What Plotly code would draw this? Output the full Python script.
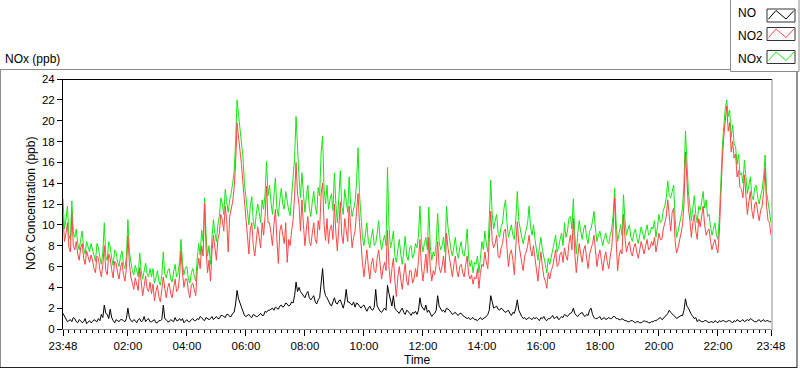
import pandas as pd
import plotly.graph_objects as go

# ---------------- data (3-minute samples, 23:48 -> 23:48 next day; one row = one hour) ----------------
nox = [
    12.5, 9.6, 10.5, 11.8, 9.0, 8.6, 12.3, 9.2, 8.8, 9.6, 8.2, 7.6, 8.6, 9.4, 7.8, 7.2, 8.4, 7.9, 7.4, 8.2,
    7.6, 6.8, 6.5, 8.2, 7.8, 6.9, 6.2, 7.4, 10.2, 7.0, 6.6, 8.4, 7.9, 6.8, 6.1, 7.6, 7.4, 6.4, 6.0, 7.0,
    7.5, 6.2, 5.8, 7.0, 10.5, 7.4, 6.4, 5.6, 5.2, 6.1, 5.6, 5.0, 7.3, 5.6, 4.8, 5.4, 6.3, 5.3, 5.0, 5.8,
    5.0, 5.8, 4.4, 4.9, 5.6, 4.6, 4.2, 5.2, 7.4, 5.3, 4.9, 5.6, 5.8, 4.8, 4.5, 5.5, 6.2, 5.0, 5.4, 6.4,
    8.6, 6.4, 5.2, 5.9, 6.0, 4.8, 4.4, 5.4, 5.8, 5.1, 4.6, 6.8, 8.2, 7.1, 9.5, 8.4, 12.6, 9.0, 7.0, 8.0,
    6.2, 8.8, 10.5, 9.2, 8.4, 10.0, 10.8, 12.6, 12.0, 11.0, 13.4, 12.2, 11.2, 12.4, 13.0, 14.0, 15.0, 18.0, 22.0, 20.6,
    19.0, 17.8, 16.5, 14.0, 12.5, 11.2, 10.0, 11.8, 12.7, 10.4, 9.6, 11.0, 12.0, 11.2, 10.2, 12.4, 11.5, 13.0, 16.1, 12.8,
    13.8, 12.2, 11.0, 12.8, 14.5, 11.6, 10.8, 12.4, 13.5, 12.0, 11.5, 13.2, 12.0, 11.4, 10.9, 12.6, 14.2, 16.4, 20.4, 17.0,
    14.6, 12.6, 15.0, 13.0, 11.2, 12.8, 13.8, 11.6, 10.8, 12.2, 13.2, 11.8, 11.0, 13.6, 12.8, 17.0, 18.5, 13.4, 12.0, 13.8,
    11.5, 12.4, 13.0, 11.4, 15.0, 12.0, 10.2, 12.6, 15.2, 11.8, 11.0, 13.4, 12.5, 11.2, 14.6, 12.0, 10.8, 11.6, 12.2, 14.0,
    17.4, 13.0, 10.6, 8.8, 8.0, 9.4, 10.2, 8.4, 7.8, 8.8, 9.6, 8.0, 8.2, 9.2, 10.4, 8.6, 7.6, 8.4, 9.0, 8.0,
    15.5, 9.8, 7.8, 8.4, 9.4, 7.0, 6.4, 7.6, 8.6, 7.2, 6.2, 7.4, 8.9, 7.0, 6.6, 7.8, 8.0, 6.8, 7.2, 8.2,
    7.8, 9.0, 11.8, 8.4, 7.4, 8.2, 8.8, 7.6, 11.7, 8.0, 6.6, 7.4, 7.0, 8.2, 11.1, 8.4, 7.6, 8.0, 8.8, 7.4,
    11.8, 9.8, 8.6, 7.6, 7.0, 8.0, 8.8, 7.4, 6.8, 7.8, 8.4, 7.2, 7.0, 8.0, 9.6, 6.8, 6.0, 6.6, 5.4, 6.4,
    6.2, 7.0, 5.4, 6.8, 8.4, 7.6, 9.4, 8.2, 7.4, 10.6, 14.3, 11.0, 9.6, 10.4, 11.0, 9.2, 8.8, 9.8, 10.2, 11.6,
    12.4, 10.2, 8.8, 9.4, 10.0, 9.0, 8.6, 10.6, 13.2, 10.4, 9.4, 8.8, 8.2, 9.0, 9.6, 10.2, 11.8, 9.8, 9.0, 10.0,
    8.6, 7.4, 6.6, 7.8, 8.8, 7.6, 7.0, 6.2, 5.4, 6.8, 6.2, 7.0, 7.6, 8.4, 9.0, 7.4, 7.8, 8.6, 9.2, 8.0,
    10.2, 8.8, 9.4, 10.6, 10.8, 9.6, 12.5, 9.0, 7.2, 9.2, 10.4, 9.4, 8.6, 9.6, 10.0, 8.8, 8.2, 9.4, 9.6, 10.4,
    11.3, 9.6, 8.4, 9.0, 9.4, 8.6, 8.0, 8.8, 9.2, 8.4, 8.2, 9.0, 9.6, 11.0, 13.5, 10.2, 8.4, 9.2, 10.0, 9.0,
    12.9, 10.4, 9.0, 9.6, 10.0, 8.8, 8.4, 9.2, 9.6, 8.8, 8.2, 9.0, 9.8, 9.2, 8.6, 9.4, 10.0, 9.0, 9.2, 9.8,
    9.6, 10.4, 8.8, 9.8, 11.0, 10.2, 10.4, 11.4, 11.8, 12.6, 14.2, 12.8, 12.6, 13.2, 13.8, 10.6, 8.8, 9.4, 10.0, 10.8,
    11.6, 14.0, 19.0, 15.6, 13.2, 11.8, 10.4, 11.6, 12.8, 11.0, 10.2, 11.8, 11.4, 12.2, 13.2, 11.6, 12.4, 10.8, 11.0, 9.8,
    9.0, 9.6, 10.2, 9.0, 8.6, 10.8, 14.5, 17.4, 19.5, 21.2, 22.0, 20.4, 21.0, 18.4, 19.6, 17.8, 17.5, 15.8, 16.8, 14.8,
    15.0, 14.0, 16.2, 14.2, 13.0, 13.8, 14.6, 12.8, 12.4, 13.6, 13.8, 12.6, 12.0, 12.8, 13.4, 14.6, 16.7, 13.2, 12.0, 11.4,
    10.2,
]

no2 = [
    10.8, 8.4, 9.2, 10.2, 7.8, 7.4, 11.0, 8.0, 7.6, 8.4, 7.2, 6.6, 7.8, 8.2, 6.8, 6.2, 7.5, 6.9, 6.4, 7.1,
    6.6, 5.8, 5.4, 7.0, 6.8, 5.7, 5.0, 6.2, 8.0, 5.6, 5.2, 7.2, 6.8, 5.7, 4.9, 6.5, 6.3, 5.4, 4.8, 5.9,
    6.4, 5.2, 4.6, 5.9, 8.9, 6.3, 5.0, 4.4, 3.8, 4.9, 4.3, 3.7, 5.9, 4.2, 3.2, 4.1, 5.1, 3.9, 3.6, 4.5,
    3.4, 4.3, 2.7, 3.6, 4.2, 3.1, 2.6, 3.8, 5.0, 3.9, 3.0, 4.0, 4.4, 3.4, 3.0, 4.0, 4.8, 3.6, 3.8, 5.0,
    7.5, 5.4, 4.0, 4.8, 4.8, 3.6, 3.0, 4.2, 4.4, 3.8, 3.2, 5.6, 6.8, 5.8, 8.0, 7.0, 12.1, 7.6, 5.4, 6.6,
    4.6, 7.4, 9.0, 7.8, 6.6, 8.6, 9.2, 11.0, 10.5, 9.4, 11.8, 10.4, 7.4, 10.8, 11.6, 12.2, 13.5, 15.8, 19.8, 18.6,
    17.5, 15.8, 14.0, 12.0, 10.5, 9.0, 7.2, 9.6, 10.2, 8.0, 7.0, 8.8, 9.8, 8.8, 7.8, 10.2, 9.0, 10.8, 13.7, 10.2,
    10.2, 9.2, 8.0, 10.0, 11.5, 8.6, 6.3, 9.4, 10.0, 9.0, 8.2, 10.2, 6.4, 8.6, 8.0, 9.4, 10.5, 12.8, 16.0, 13.0,
    12.0, 9.4, 12.4, 10.0, 8.0, 9.6, 10.8, 8.4, 8.0, 9.2, 10.2, 8.6, 8.2, 10.4, 9.5, 13.0, 14.0, 10.0, 8.5, 10.6,
    8.2, 9.6, 10.0, 8.6, 12.0, 9.2, 7.5, 9.8, 12.2, 9.0, 8.2, 10.6, 9.6, 8.4, 11.8, 9.2, 7.8, 8.8, 9.4, 11.2,
    13.0, 10.2, 8.0, 6.4, 5.0, 6.6, 7.6, 6.0, 4.8, 6.2, 6.8, 5.6, 5.4, 6.8, 7.6, 6.2, 4.8, 5.8, 6.4, 5.6,
    9.5, 6.0, 4.4, 5.8, 6.8, 4.6, 3.1, 5.0, 6.0, 4.8, 3.8, 5.2, 6.3, 4.6, 4.2, 5.6, 5.6, 4.4, 4.8, 5.8,
    5.0, 6.6, 8.6, 6.0, 4.6, 5.8, 7.2, 5.4, 8.8, 5.8, 4.6, 5.6, 5.2, 6.2, 8.4, 6.0, 5.4, 6.0, 7.0, 5.4,
    9.2, 7.8, 6.8, 5.6, 5.0, 6.2, 7.0, 5.6, 5.0, 6.0, 6.2, 5.4, 5.0, 6.2, 7.0, 5.2, 4.8, 5.2, 4.3, 5.0,
    4.8, 5.8, 3.9, 5.4, 6.2, 6.0, 7.4, 6.4, 5.8, 8.6, 11.3, 8.4, 7.8, 8.2, 9.0, 7.0, 6.8, 7.8, 8.2, 9.4,
    9.6, 7.8, 6.0, 7.2, 7.6, 6.6, 5.2, 8.0, 10.3, 8.2, 7.0, 6.4, 5.6, 7.0, 7.4, 8.0, 9.0, 7.6, 7.0, 8.0,
    6.8, 5.8, 4.6, 6.2, 7.4, 6.0, 5.0, 4.6, 3.9, 5.4, 4.8, 5.6, 6.0, 6.8, 7.6, 6.0, 6.2, 7.2, 7.4, 6.4,
    7.8, 7.0, 6.6, 8.2, 9.0, 7.6, 10.6, 7.2, 5.4, 7.0, 8.2, 7.2, 6.4, 7.6, 8.0, 6.8, 5.8, 7.2, 7.6, 8.2,
    9.0, 7.6, 6.0, 7.0, 7.6, 6.6, 5.6, 6.8, 7.4, 6.4, 5.8, 7.0, 7.8, 9.8, 12.6, 8.6, 5.6, 7.0, 7.6, 7.2,
    11.0, 8.8, 7.4, 8.0, 8.4, 7.4, 7.0, 7.8, 8.2, 7.4, 6.8, 7.6, 8.4, 7.8, 7.2, 8.0, 8.6, 7.6, 7.8, 8.4,
    8.0, 8.8, 7.4, 8.2, 9.2, 8.6, 8.6, 9.6, 10.2, 10.8, 12.4, 10.6, 9.4, 11.2, 11.6, 8.4, 7.3, 7.8, 8.4, 9.2,
    10.0, 12.0, 17.0, 13.4, 11.6, 10.4, 8.8, 10.2, 11.0, 9.4, 8.6, 10.6, 9.8, 10.8, 11.8, 10.0, 9.0, 9.4, 9.6, 8.4,
    7.6, 8.2, 8.6, 7.8, 7.3, 9.4, 13.2, 16.2, 18.5, 20.2, 21.4, 19.0, 19.8, 17.0, 18.0, 16.4, 16.8, 14.6, 15.2, 13.6,
    13.4, 12.6, 14.8, 12.8, 11.0, 12.2, 13.2, 11.4, 10.6, 12.0, 12.2, 11.2, 10.4, 11.4, 11.8, 13.2, 15.4, 11.8, 10.4, 10.2,
    9.0,
]

no = [
    1.5, 1.2, 1.0, 0.7, 0.8, 0.9, 0.7, 1.1, 1.0, 0.7, 0.6, 0.9, 0.8, 0.6, 0.7, 1.0, 0.5, 0.7, 0.8, 0.6,
    0.7, 0.9, 0.8, 0.7, 1.0, 0.8, 1.4, 1.1, 2.3, 1.5, 1.4, 1.0, 1.9, 1.1, 0.8, 0.6, 0.9, 0.8, 0.7, 0.9,
    0.9, 0.8, 0.7, 1.0, 2.0, 1.1, 0.8, 0.7, 0.9, 0.8, 0.6, 0.9, 1.0, 0.7, 0.8, 1.2, 0.7, 0.9, 1.0, 0.7,
    0.7, 0.8, 0.9, 0.6, 0.6, 0.8, 0.8, 0.9, 2.3, 1.0, 0.9, 0.7, 0.7, 0.9, 0.8, 0.7, 1.1, 0.8, 0.8, 1.0,
    0.8, 1.0, 0.6, 0.8, 0.9, 0.7, 0.7, 0.9, 1.0, 0.8, 0.8, 1.0, 0.9, 1.2, 1.1, 0.9, 0.8, 1.1, 1.0, 0.9,
    1.0, 1.2, 0.9, 1.1, 1.2, 1.0, 1.0, 1.3, 1.3, 1.2, 1.1, 1.4, 1.4, 1.2, 1.2, 1.5, 1.6, 2.4, 3.7, 2.9,
    2.5, 2.0, 1.6, 1.3, 1.2, 1.3, 1.4, 1.2, 1.1, 1.4, 1.3, 1.2, 1.2, 1.4, 1.5, 1.3, 1.3, 1.7, 1.6, 1.8,
    1.8, 1.9, 2.0, 1.8, 2.1, 2.0, 1.9, 2.2, 2.3, 2.1, 2.2, 2.5, 2.4, 2.2, 2.3, 2.6, 2.5, 3.2, 4.5, 3.6,
    4.0, 3.6, 3.4, 3.2, 3.0, 3.4, 3.6, 3.0, 2.8, 3.0, 3.2, 2.6, 2.4, 2.8, 3.0, 4.4, 5.8, 3.8, 3.2, 3.0,
    2.6, 2.4, 2.2, 2.6, 3.0, 2.5, 2.4, 2.7, 2.8, 2.4, 2.0, 2.6, 3.8, 2.6, 2.6, 2.4, 2.3, 2.6, 2.1, 2.5,
    2.4, 2.2, 2.0, 2.2, 2.3, 2.0, 1.7, 2.0, 2.2, 1.9, 1.8, 2.1, 3.8, 2.2, 1.9, 1.7, 1.6, 1.8, 2.0, 1.8,
    4.2, 3.4, 2.6, 2.2, 3.2, 2.0, 1.8, 1.6, 1.5, 1.8, 2.0, 1.6, 1.4, 1.8, 1.7, 1.5, 1.3, 1.6, 1.5, 1.7,
    1.4, 1.8, 3.0, 2.2, 2.0, 1.8, 2.3, 1.6, 1.8, 1.5, 1.2, 1.4, 1.5, 1.8, 3.2, 2.2, 2.0, 1.7, 1.8, 1.6,
    2.0, 1.9, 1.8, 1.6, 1.4, 1.5, 1.6, 1.4, 1.3, 1.5, 1.5, 1.3, 1.2, 1.1, 1.0, 1.1, 0.9, 1.0, 1.1, 0.9,
    0.9, 0.8, 1.0, 1.1, 0.9, 1.0, 1.1, 1.2, 1.4, 1.8, 3.2, 2.4, 2.0, 2.1, 2.2, 1.9, 1.8, 2.0, 1.9, 1.7,
    1.6, 1.7, 1.8, 1.5, 1.3, 1.6, 1.5, 2.0, 2.8, 1.8, 1.4, 1.2, 1.0, 1.1, 0.9, 1.0, 1.1, 1.0, 0.9, 1.1,
    1.0, 1.1, 0.9, 0.8, 1.1, 1.0, 1.2, 0.9, 0.8, 1.0, 1.0, 1.1, 1.3, 1.0, 1.1, 1.2, 0.9, 1.0, 1.2, 1.1,
    1.4, 1.3, 1.2, 1.4, 1.5, 1.6, 2.0, 1.5, 1.3, 1.2, 1.4, 1.5, 1.6, 1.3, 1.2, 1.4, 1.3, 1.8, 2.0, 1.4,
    1.1, 1.0, 1.0, 1.1, 1.2, 0.9, 1.0, 1.1, 0.9, 1.0, 1.1, 1.0, 1.0, 1.2, 1.2, 1.0, 1.0, 0.9, 0.9, 1.0,
    0.9, 0.8, 0.8, 0.7, 0.7, 0.8, 0.8, 0.7, 0.6, 0.7, 0.7, 0.6, 0.6, 0.7, 0.8, 0.7, 0.7, 0.6, 0.6, 0.7,
    0.7, 0.8, 0.8, 0.9, 1.0, 1.1, 0.9, 1.0, 1.2, 1.3, 1.5, 1.8, 1.6, 1.4, 1.3, 1.2, 1.0, 1.1, 1.2, 1.3,
    1.3, 1.8, 2.9, 2.2, 2.0, 1.6, 1.4, 1.2, 1.0, 1.1, 0.7, 0.9, 0.8, 0.7, 0.7, 0.8, 0.8, 0.7, 0.6, 0.7,
    0.7, 0.6, 0.8, 0.7, 0.6, 0.8, 0.7, 0.8, 0.8, 0.7, 0.7, 0.8, 0.8, 0.7, 0.6, 0.8, 0.7, 0.9, 0.8, 0.7,
    0.8, 0.9, 0.7, 0.8, 0.9, 0.8, 1.0, 0.9, 0.8, 0.7, 0.7, 0.8, 0.9, 0.7, 0.8, 0.9, 0.7, 0.8, 0.8, 0.7,
    0.7,
]

major_hours = [2, 4, 6, 8, 10, 12, 14, 16, 18, 20, 22]
tick_labels = ["23:48", "02:00", "04:00", "06:00", "08:00", "10:00", "12:00",
               "14:00", "16:00", "18:00", "20:00", "22:00", "23:48"]

start = pd.Timestamp("2015-03-10 23:48")
end = start + pd.Timedelta(hours=24)
times = pd.date_range(start, periods=len(nox), freq="3min")
midnight = start.normalize() + pd.Timedelta(days=1)
tickvals = [start] + [midnight + pd.Timedelta(hours=h) for h in major_hours] + [end]
minor_vals = list(pd.date_range(start, end, freq="12min"))

# ---------------- layout geometry ----------------
W, H = 800, 369
L, R, T, B = 63, 29, 79, 40
PW, PH = W - L - R, H - T - B


def px(x):
    return (x - L) / PW


def py(y):
    return (H - B - y) / PH


FONT = "Liberation Sans"

fig = go.Figure()
fig.add_trace(go.Scatter(x=times, y=nox, mode="lines", name="NOx",
                         line=dict(color="#14E614", width=1)))
fig.add_trace(go.Scatter(x=times, y=no2, mode="lines", name="NO2",
                         line=dict(color="#FF4646", width=1)))
fig.add_trace(go.Scatter(x=times, y=no, mode="lines", name="NO",
                         line=dict(color="#000000", width=1)))

shapes = []


def line(x0, y0, x1, y1, color, width=1):
    shapes.append(dict(type="line", xref="paper", yref="paper",
                       x0=px(x0), y0=py(y0), x1=px(x1), y1=py(y1),
                       line=dict(color=color, width=width)))


# plot area sunken border
line(62, 79.5, 772, 79.5, "#000000")
line(772, 79.5, 772, 330, "#8C8C8C")
# outer panel frame
line(0, 69.5, 730, 69.5, "#8C8C8C")
line(0.5, 69.5, 0.5, 368, "#8C8C8C")
line(797, 71.5, 797, 368, "#222222")
line(0, 367.5, 797, 367.5, "#222222")
# legend box
shapes.append(dict(type="rect", xref="paper", yref="paper",
                   x0=px(730.5), y0=py(-1), x1=px(799), y1=py(71.5),
                   line=dict(color="#8C8C8C", width=1), fillcolor="rgba(0,0,0,0)"))

legend_items = [("NO", "#000000", 9, 22, 13), ("NO2", "#FF4646", 27.5, 40.5, 36),
                ("NOx", "#14E614", 50.5, 63.5, 59)]
annotations = []
for name, color, yt, yb, yc in legend_items:
    shapes.append(dict(type="rect", xref="paper", yref="paper",
                       x0=px(767), y0=py(yb), x1=px(795), y1=py(yt),
                       line=dict(color="#333333", width=1), fillcolor="white"))
    pts = [(768.5, yb - 3), (776, yt + 1.5), (786, yb - 3), (794, yt + 1.5)]
    path = "M " + " L ".join(f"{px(a)},{py(b)}" for a, b in pts)
    shapes.append(dict(type="path", xref="paper", yref="paper", path=path,
                       line=dict(color=color, width=1)))
    annotations.append(dict(text=name, xref="paper", yref="paper", x=px(736), y=py(yc),
                            xanchor="left", yanchor="middle", showarrow=False,
                            font=dict(family=FONT, size=12, color="#000000")))

annotations += [
    dict(text="NOx (ppb)", xref="paper", yref="paper", x=px(3), y=py(59),
         xanchor="left", yanchor="middle", showarrow=False,
         font=dict(family=FONT, size=12, color="#000000")),
    dict(text="NOx Concentration (ppb)", xref="paper", yref="paper", x=px(31), y=py(204),
         xanchor="center", yanchor="middle", textangle=-90, showarrow=False,
         font=dict(family=FONT, size=12, color="#000000")),
    dict(text="Time", xref="paper", yref="paper", x=px(417), y=py(360),
         xanchor="center", yanchor="middle", showarrow=False,
         font=dict(family=FONT, size=12, color="#000000")),
]

fig.update_layout(
    width=W, height=H,
    margin=dict(l=L, r=R, t=T, b=B, pad=0),
    paper_bgcolor="white", plot_bgcolor="white",
    showlegend=False,
    shapes=shapes, annotations=annotations,
    font=dict(family=FONT, size=12, color="#000000"),
    xaxis=dict(
        type="date", range=[start, end],
        tickmode="array", tickvals=tickvals, ticktext=tick_labels,
        ticks="outside", ticklen=6, tickcolor="#000000", tickwidth=1,
        showline=True, linecolor="#8C8C8C", linewidth=1,
        showgrid=False, zeroline=False,
        tickfont=dict(family=FONT, size=11.5, color="#000000"),
        minor=dict(tickmode="array", tickvals=minor_vals, ticks="outside",
                   ticklen=3, tickcolor="#000000", tickwidth=1, showgrid=False),
        fixedrange=True,
    ),
    yaxis=dict(
        range=[0, 24], tickmode="linear", tick0=0, dtick=2,
        ticks="outside", ticklen=5, tickcolor="#000000", tickwidth=1,
        showline=True, linecolor="#000000", linewidth=1,
        showgrid=False, zeroline=False,
        tickfont=dict(family=FONT, size=11.5, color="#000000"),
        fixedrange=True,
    ),
)

fig.write_html("out.html", config={"displayModeBar": False},
               post_script="document.body.style.margin='0px';document.body.style.overflow='hidden';")
